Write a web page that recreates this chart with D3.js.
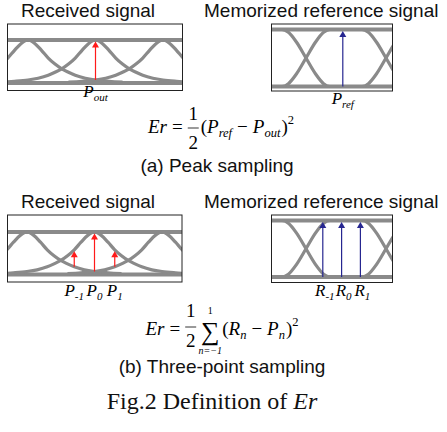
<!DOCTYPE html>
<html>
<head>
<meta charset="utf-8">
<script src="https://cdn.jsdelivr.net/npm/d3@7"></script>
<style>
  body { margin: 0; background: #fff; }
  svg { display: block; }
</style>
</head>
<body>
<script>
// ---- data ----
var titles = ["Received signal", "Memorized reference signal"];
var captions = ["(a) Peak sampling", "(b) Three-point sampling"];
var figCaption = "Fig.2 Definition of ";

// received eye: isolated pulses, one per symbol slot
var pulseCenters = [-1, 0, 1];
// pulse shape: [offset from centre (symbols), level]
var pulseOffsets = [0, 0.1, 0.2, 0.3, 0.4, 0.5, 0.6, 0.7, 0.85, 1.0, 1.2, 1.4];
var pulseLevels  = [1, 0.92, 0.76, 0.58, 0.44, 0.33, 0.25, 0.18, 0.11, 0.07, 0.04, 0.02];

// reference eye: two bit patterns switching at the crossings
var refCrossings = [-0.5, 0.5];
var refPatterns = [[1, 0, 1], [0, 1, 0]];
// falling edge shape: [offset from crossing (symbols), level]
var edgeOffsets = [-0.5, -0.3, -0.22, -0.12, 0, 0.12, 0.22, 0.3, 0.5];
var edgeLevels  = [1, 1, 0.95, 0.78, 0.5, 0.22, 0.05, 0, 0];

// sampling instants (symbols) and their labels
var peakSamples = [0];
var peakOutLabels = [["P", "out"]];
var peakRefSamples = [-0.04];
var peakRefLabels = [["P", "ref"]];
var threeSamples = [-0.3, 0, 0.3];
var threeOutLabels = [["P", "-1"], ["P", "0"], ["P", "1"]];
var threeRefSamples = [-0.29, -0.055, 0.18];
var threeRefLabels = [["R", "-1"], ["R", "0"], ["R", "1"]];

var W = 447, H = 432;
var gray = "#8a8a8a";
var red = "#ff1a1a";
var blue = "#262690";
var sans = "'Liberation Sans', Arial, sans-serif";
var serif = "'Liberation Serif', 'Times New Roman', serif";

var svg = d3.select("body").append("svg")
    .attr("width", W).attr("height", H);
var defs = svg.append("defs");

var pulseAt = d3.scaleLinear().domain(pulseOffsets).range(pulseLevels).clamp(true);
var line = d3.line().curve(d3.curveMonotoneX);

// draw one boxed eye diagram; returns the scales
function drawBox(id, box, yTop, yBot, x0, x1) {
    var g = svg.append("g");
    var x = d3.scaleLinear().domain([-1, 1]).range([x0, x1]);
    var y = d3.scaleLinear().domain([0, 1]).range([yBot, yTop]);
    defs.append("clipPath").attr("id", id)
        .append("rect")
        .attr("x", box[0]).attr("y", box[1])
        .attr("width", box[2] - box[0]).attr("height", box[3] - box[1]);
    var inner = g.append("g").attr("clip-path", "url(#" + id + ")");
    // level bands
    inner.selectAll("line.band").data([0, 1]).enter().append("line")
        .attr("x1", box[0]).attr("x2", box[2])
        .attr("y1", function(d) { return y(d); })
        .attr("y2", function(d) { return y(d); })
        .attr("stroke", gray).attr("stroke-width", 4);
    g.append("rect")
        .attr("x", box[0]).attr("y", box[1])
        .attr("width", box[2] - box[0]).attr("height", box[3] - box[1])
        .attr("fill", "none").attr("stroke", "#222").attr("stroke-width", 1);
    return {g: g, inner: inner, x: x, y: y};
}

function drawPulses(b) {
    var curves = pulseCenters.map(function(c) {
        var pts = [];
        for (var i = pulseOffsets.length - 1; i > 0; i--)
            pts.push([b.x(c - pulseOffsets[i]), b.y(pulseLevels[i])]);
        for (var j = 0; j < pulseOffsets.length; j++)
            pts.push([b.x(c + pulseOffsets[j]), b.y(pulseLevels[j])]);
        return pts;
    });
    b.inner.selectAll("path.pulse").data(curves).enter().append("path")
        .attr("d", line).attr("fill", "none")
        .attr("stroke", gray).attr("stroke-width", 3.2);
}

function drawRef(b) {
    var curves = refPatterns.map(function(bits) {
        var pts = [[b.x(-2), b.y(bits[0])]];
        refCrossings.forEach(function(c, k) {
            var a = bits[k], e = bits[k + 1];
            edgeOffsets.forEach(function(o, i) {
                if (k > 0 && i == 0) return;
                pts.push([b.x(c + o), b.y(e + (a - e) * edgeLevels[i])]);
            });
        });
        pts.push([b.x(2), b.y(bits[bits.length - 1])]);
        return pts;
    });
    b.inner.selectAll("path.ref").data(curves).enter().append("path")
        .attr("d", line).attr("fill", "none")
        .attr("stroke", gray).attr("stroke-width", 3.2);
}

function arrow(g, x, yFrom, yTo, color) {
    g.append("line")
        .attr("x1", x).attr("x2", x)
        .attr("y1", yFrom).attr("y2", yTo + 5)
        .attr("stroke", color).attr("stroke-width", 1.2);
    g.append("path")
        .attr("d", "M" + (x - 3.5) + "," + (yTo + 6) + "L" + x + "," + yTo +
              "L" + (x + 3.5) + "," + (yTo + 6) + "Z")
        .attr("fill", color);
}

function outArrows(b, samples) {
    samples.forEach(function(t) {
        var top = pulseAt(Math.abs(t));
        var base = d3.max(pulseCenters.filter(function(c) { return c != 0; }),
                          function(c) { return pulseAt(Math.abs(t - c)); });
        arrow(b.g, b.x(t), b.y(base), b.y(top) + 1.5, red);
    });
}

function refArrows(b, samples) {
    samples.forEach(function(t) {
        arrow(b.g, b.x(t), b.y(0), b.y(1) + 1.5, blue);
    });
}

function labels(b, samples, labs, baseline, dx) {
    samples.forEach(function(t, i) {
        var txt = b.g.append("text")
            .attr("x", b.x(t) + dx).attr("y", baseline)
            .attr("text-anchor", "middle")
            .attr("font-family", serif).attr("font-style", "italic")
            .attr("font-size", 17);
        txt.append("tspan").text(labs[i][0]);
        txt.append("tspan").attr("font-size", 11).attr("dy", 4).text(labs[i][1]);
    });
}

function title(x, y, s, anchor) {
    svg.append("text").attr("x", x).attr("y", y)
        .attr("text-anchor", anchor)
        .attr("font-family", sans).attr("font-size", 19)
        .attr("fill", "#111").text(s);
}

// lay out a little formula left to right, centred on cx
// fr = [numerator dy, denominator dy, bar dy]
function formula(items, cx, base, fr) {
    var g = svg.append("g");
    var size = 19, small = 12.5;
    var x = 0;
    function put(s, o) {
        var t = g.append("text").attr("x", x).attr("y", base + (o.dy || 0))
            .attr("font-family", serif)
            .attr("font-style", o.it ? "italic" : "normal")
            .attr("font-size", o.size || size)
            .attr("text-anchor", o.anchor || "start")
            .text(s);
        return t.node().getComputedTextLength();
    }
    items.forEach(function(it) {
        if (it.gap) { x += it.gap; return; }
        if (it.frac) {
            var w = 11;
            var sx = x; x = sx + w / 2;
            put(it.frac[0], {anchor: "middle", dy: fr[0]});
            put(it.frac[1], {anchor: "middle", dy: fr[1]});
            g.append("line").attr("x1", sx).attr("x2", sx + w)
                .attr("y1", base + fr[2]).attr("y2", base + fr[2])
                .attr("stroke", "#000").attr("stroke-width", 0.8);
            x = sx + w + 2;
            return;
        }
        if (it.sum) {
            var sw = 22;
            var sx2 = x; x = sx2 + sw / 2;
            put("\u2211", {anchor: "middle", size: 26, dy: 5});
            put(it.sum[0], {anchor: "middle", size: 10, dy: -21});
            put(it.sum[1], {anchor: "middle", size: 10, dy: 19, it: true});
            x = sx2 + sw + 1;
            return;
        }
        if (it.sub) { x += put(it.sub, {it: true, size: small, dy: 4}) + 1; return; }
        if (it.sup) { x += put(it.sup, {size: small, dy: -9}); return; }
        x += put(it.s, it);
    });
    g.attr("transform", "translate(" + (cx - x / 2) + ",0)");
}

// ---- (a) peak sampling ----
title(88, 17, titles[0], "middle");
title(204, 17, titles[1], "start");

var ra = drawBox("clipRa", [7.5, 24, 182.5, 90.5], 40, 83, 28, 163);
drawPulses(ra);
outArrows(ra, peakSamples);
labels(ra, peakSamples, peakOutLabels, 97, 0);

var fa = drawBox("clipFa", [271.5, 24, 392.5, 91], 29.5, 86.5, 266, 426);
drawRef(fa);
refArrows(fa, peakRefSamples);
labels(fa, peakRefSamples, peakRefLabels, 104, 0);

formula([{s: "Er", it: true}, {gap: 5}, {s: "="}, {gap: 5}, {frac: ["1", "2"]},
         {s: "("}, {s: "P", it: true}, {sub: "ref"}, {gap: 4}, {s: "\u2212"}, {gap: 5},
         {s: "P", it: true}, {sub: "out"}, {s: ")"}, {sup: "2"}], 221, 133, [-13, 16, -5]);

svg.append("text").attr("x", 217).attr("y", 172).attr("text-anchor", "middle")
    .attr("font-family", sans).attr("font-size", 19).attr("fill", "#111")
    .text(captions[0]);

// ---- (b) three-point sampling ----
title(88, 208, titles[0], "middle");
title(204, 208, titles[1], "start");

var rb = drawBox("clipRb", [7.5, 215, 182, 282], 232, 274.5, 27, 162);
drawPulses(rb);
outArrows(rb, threeSamples);
labels(rb, threeSamples, threeOutLabels, 296, 0);

var fb = drawBox("clipFb", [271.5, 215, 392.5, 282.5], 220.5, 277, 266, 426);
drawRef(fb);
refArrows(fb, threeRefSamples);
labels(fb, threeRefSamples, threeRefLabels, 296, 2);

formula([{s: "Er", it: true}, {gap: 5}, {s: "="}, {gap: 5}, {frac: ["1", "2"]},
         {gap: 1}, {sum: ["1", "n=\u22121"]},
         {s: "("}, {s: "R", it: true}, {sub: "n"}, {gap: 4}, {s: "\u2212"}, {gap: 5},
         {s: "P", it: true}, {sub: "n"}, {s: ")"}, {sup: "2"}], 222, 335, [-18, 12, -8]);

svg.append("text").attr("x", 222).attr("y", 373).attr("text-anchor", "middle")
    .attr("font-family", sans).attr("font-size", 19).attr("fill", "#111")
    .text(captions[1]);

// figure caption
var fc = svg.append("text").attr("x", 212).attr("y", 409).attr("text-anchor", "middle")
    .attr("font-family", serif).attr("font-size", 24).attr("fill", "#111");
fc.append("tspan").text(figCaption);
fc.append("tspan").attr("font-style", "italic").text("Er");
</script>
</body>
</html>
